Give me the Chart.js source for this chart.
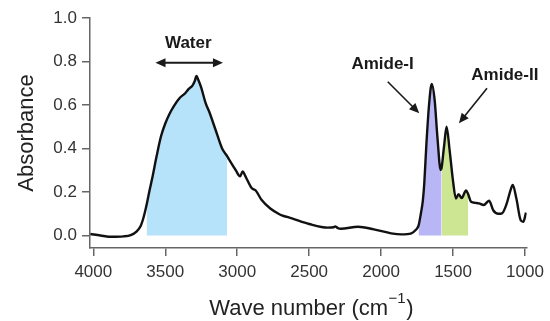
<!DOCTYPE html>
<html>
<head>
<meta charset="utf-8">
<script src="https://cdn.jsdelivr.net/npm/chart.js@4.4.1/dist/chart.umd.min.js"></script>
<style>
  html, body { margin: 0; padding: 0; background: #fff; }
  #wrap { width: 550px; height: 321px; }
</style>
</head>
<body>
<div id="wrap"><canvas id="c" width="550" height="321"></canvas></div>
<script>
// ---- data ----
const wavenumbers = [4020, 3950, 3870, 3790, 3740, 3700, 3670, 3650, 3630, 3610, 3590, 3560, 3530, 3500, 3470, 3440, 3400, 3360, 3340, 3310, 3295, 3283, 3270, 3250, 3220, 3195, 3150, 3105, 3070, 3057, 3010, 2980, 2962, 2945, 2930, 2900, 2885, 2873, 2830, 2770, 2710, 2690, 2620, 2500, 2370, 2330, 2320, 2300, 2280, 2160, 2050, 1930, 1860, 1790, 1760, 1740, 1724, 1710, 1700, 1685, 1666, 1648, 1628, 1609, 1586, 1580, 1563, 1545, 1524, 1501, 1480, 1462, 1440, 1410, 1395, 1375, 1345, 1320, 1287, 1250, 1220, 1185, 1160, 1128, 1100, 1085, 1060, 1030, 1012, 993];
const absorbance = [0.007, 0.000, -0.006, -0.004, 0.002, 0.018, 0.045, 0.085, 0.14, 0.205, 0.265, 0.365, 0.455, 0.515, 0.56, 0.595, 0.632, 0.655, 0.672, 0.69, 0.71, 0.733, 0.715, 0.68, 0.61, 0.57, 0.485, 0.40, 0.365, 0.35, 0.30, 0.272, 0.295, 0.275, 0.255, 0.218, 0.212, 0.208, 0.163, 0.124, 0.099, 0.093, 0.079, 0.053, 0.036, 0.038, 0.042, 0.034, 0.031, 0.040, 0.028, 0.010, 0.005, 0.010, 0.025, 0.045, 0.10, 0.16, 0.24, 0.424, 0.608, 0.697, 0.623, 0.455, 0.301, 0.31, 0.408, 0.50, 0.393, 0.255, 0.170, 0.19, 0.172, 0.207, 0.19, 0.155, 0.15, 0.148, 0.140, 0.160, 0.115, 0.100, 0.102, 0.145, 0.21, 0.232, 0.17, 0.07, 0.063, 0.105];
const xTicks = [4000, 3500, 3000, 2500, 2000, 1500, 1000];
const yTicks = [0.0, 0.2, 0.4, 0.6, 0.8, 1.0];
const waterBand = [3630, 3070];
const amide1Band = [1740, 1580];
const amide2Band = [1580, 1395];
const bandLabels = ['Water', 'Amide-I', 'Amide-II'];

// ---- build series ----
const spectrum = wavenumbers.map((w, i) => ({ x: w, y: absorbance[i] }));
function band(r) {
  const hi = Math.max(r[0], r[1]), lo = Math.min(r[0], r[1]);
  return spectrum.filter(p => p.x <= hi && p.x >= lo);
}

// annotation placement (data coordinates)
const notes = [
  { text: bandLabels[0], x: 3340, y: 0.885, arrow: { x1: 3568, y1: 0.794, x2: 3099, y2: 0.794, both: true } },
  { text: bandLabels[1], x: 1990, y: 0.789, arrow: { x1: 1954, y1: 0.707, x2: 1735, y2: 0.562, both: false } },
  { text: bandLabels[2], x: 1140, y: 0.738, arrow: { x1: 1264, y1: 0.677, x2: 1459, y2: 0.516, both: false } }
];

const FONT = '"Liberation Sans", Arial, Helvetica, sans-serif';

function head(ctx, x1, y1, x2, y2) {
  const a = Math.atan2(y2 - y1, x2 - x1);
  const L = 10, W = 4.5;
  ctx.beginPath();
  ctx.moveTo(x2, y2);
  ctx.lineTo(x2 - L * Math.cos(a) + W * Math.sin(a), y2 - L * Math.sin(a) - W * Math.cos(a));
  ctx.lineTo(x2 - L * Math.cos(a) - W * Math.sin(a), y2 - L * Math.sin(a) + W * Math.cos(a));
  ctx.closePath();
  ctx.fill();
}

const decor = {
  id: 'decor',
  afterDraw(chart) {
    const ctx = chart.ctx, xs = chart.scales.x, ys = chart.scales.y, ca = chart.chartArea;
    ctx.save();
    ctx.fillStyle = '#1a1a1a';
    ctx.strokeStyle = '#1a1a1a';
    // annotations
    notes.forEach(n => {
      ctx.font = 'bold 17px ' + FONT;
      ctx.textAlign = 'center';
      ctx.textBaseline = 'middle';
      ctx.fillText(n.text, xs.getPixelForValue(n.x), ys.getPixelForValue(n.y));
      const a = n.arrow;
      const px1 = xs.getPixelForValue(a.x1), py1 = ys.getPixelForValue(a.y1);
      const px2 = xs.getPixelForValue(a.x2), py2 = ys.getPixelForValue(a.y2);
      ctx.lineWidth = a.both ? 2 : 1.6;
      const ang = Math.atan2(py2 - py1, px2 - px1);
      ctx.beginPath();
      ctx.moveTo(px1 + (a.both ? 6 * Math.cos(ang) : 0), py1 + (a.both ? 6 * Math.sin(ang) : 0));
      ctx.lineTo(px2 - 6 * Math.cos(ang), py2 - 6 * Math.sin(ang));
      ctx.stroke();
      head(ctx, px1, py1, px2, py2);
      if (a.both) head(ctx, px2, py2, px1, py1);
    });
    // y title
    ctx.fillStyle = '#222';
    ctx.font = '22px ' + FONT;
    ctx.save();
    ctx.translate(32.5, (ca.top + ca.bottom) / 2);
    ctx.rotate(-Math.PI / 2);
    ctx.textAlign = 'center';
    ctx.textBaseline = 'alphabetic';
    ctx.fillText('Absorbance', 0, 0);
    ctx.restore();
    // x title with superscript
    const t1 = 'Wave number (cm', t2 = '\u22121', t3 = ')';
    ctx.font = '22px ' + FONT;
    const w1 = ctx.measureText(t1).width, w3 = ctx.measureText(t3).width;
    ctx.font = '15px ' + FONT;
    const w2 = ctx.measureText(t2).width;
    const total = w1 + w2 + w3 + 1;
    let sx = (ca.left + ca.right) / 2 + 3 - total / 2;
    const base = 315;
    ctx.textAlign = 'left';
    ctx.textBaseline = 'alphabetic';
    ctx.font = '22px ' + FONT;
    ctx.fillText(t1, sx, base);
    ctx.font = '15px ' + FONT;
    ctx.fillText(t2, sx + w1 + 0.5, base - 12);
    ctx.font = '22px ' + FONT;
    ctx.fillText(t3, sx + w1 + w2 + 1, base);
    ctx.restore();
  }
};

const axisColor = '#666';

new Chart(document.getElementById('c'), {
  type: 'line',
  data: {
    datasets: [
      { data: spectrum, borderColor: '#111', borderWidth: 2.4, pointRadius: 0, fill: false, cubicInterpolationMode: 'monotone' },
      { data: band(waterBand), borderWidth: 0, pointRadius: 0, fill: 'origin', backgroundColor: 'rgb(182,226,250)', cubicInterpolationMode: 'monotone' },
      { data: band(amide1Band), borderWidth: 0, pointRadius: 0, fill: 'origin', backgroundColor: 'rgb(184,182,244)', cubicInterpolationMode: 'monotone' },
      { data: band(amide2Band), borderWidth: 0, pointRadius: 0, fill: 'origin', backgroundColor: 'rgb(204,230,148)', cubicInterpolationMode: 'monotone' }
    ]
  },
  options: {
    responsive: false,
    animation: false,
    devicePixelRatio: 1,
    layout: { padding: { left: 0, right: 20, top: 18, bottom: 0 } },
    plugins: { legend: { display: false }, tooltip: { enabled: false }, title: { display: false } },
    scales: {
      x: {
        type: 'linear', reverse: true, min: 988, max: 4023,
        afterBuildTicks: s => { s.ticks = xTicks.map(v => ({ value: v })); },
        afterFit: s => { s.height = 73; },
        ticks: { color: '#333', font: { family: FONT, size: 17 }, padding: 6, maxRotation: 0, callback: v => String(v) },
        grid: { drawOnChartArea: false, drawTicks: true, tickLength: 8, color: axisColor, lineWidth: 1.5 },
        border: { display: true, color: axisColor, width: 1.5 }
      },
      y: {
        type: 'linear', min: -0.0575, max: 1.0,
        afterBuildTicks: s => { s.ticks = yTicks.map(v => ({ value: v })); },
        afterFit: s => { s.width = 90; },
        ticks: { color: '#333', font: { family: FONT, size: 17 }, padding: 5, callback: v => Number(v).toFixed(1) },
        grid: { drawOnChartArea: false, drawTicks: true, tickLength: 8, color: axisColor, lineWidth: 1.5 },
        border: { display: true, color: axisColor, width: 1.5 }
      }
    }
  },
  plugins: [decor]
});
</script>
</body>
</html>
